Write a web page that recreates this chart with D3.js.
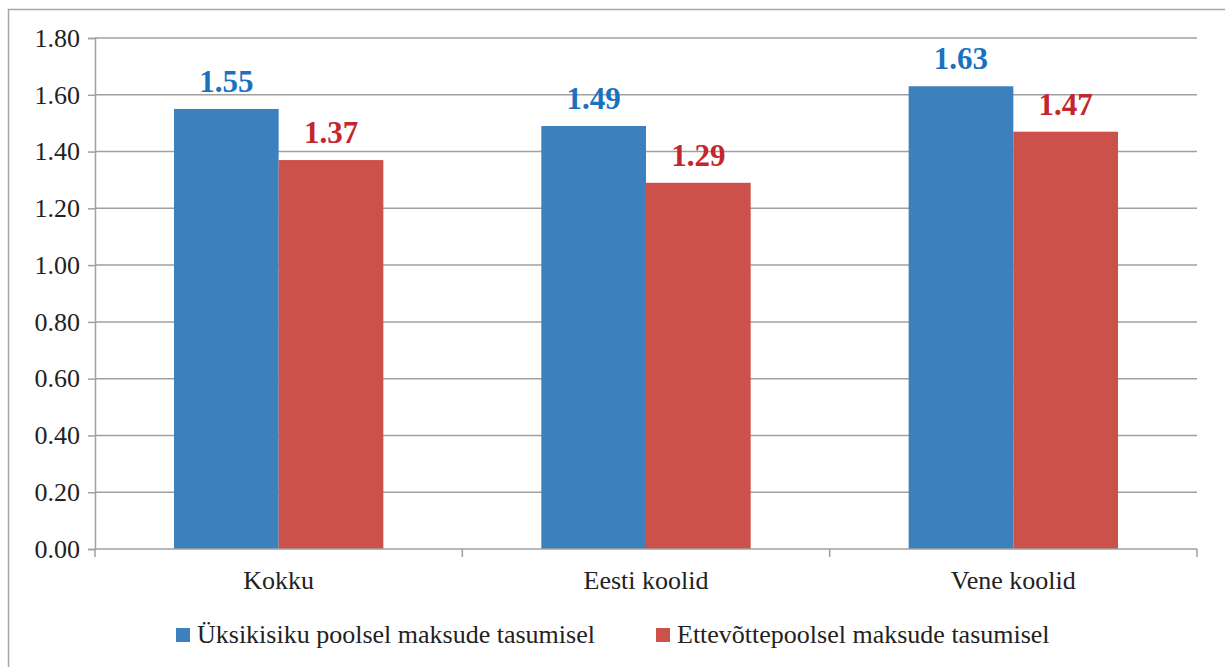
<!DOCTYPE html>
<html><head><meta charset="utf-8">
<script src="https://cdn.jsdelivr.net/npm/d3@7"></script>
<style>body{margin:0;background:#fff}svg{display:block}</style>
</head><body>
<svg id="c" width="1225" height="667"></svg>
<script>
const categories = ["Kokku", "Eesti koolid", "Vene koolid"];
const seriesNames = ["Üksikisiku poolsel maksude tasumisel", "Ettevõttepoolsel maksude tasumisel"];
const seriesA = [1.55, 1.49, 1.63];
const seriesB = [1.37, 1.29, 1.47];
const yTicks = [0, 0.2, 0.4, 0.6, 0.8, 1.0, 1.2, 1.4, 1.6, 1.8];
const barColors = ["#3c81be", "#cb514a"];
const labelColors = ["#1a72bf", "#c3262d"];

const FONT = '"Liberation Serif","Times New Roman",Tinos,serif';
const svg = d3.select("#c");
const L = 95, R = 1197, T = 38, B = 549;

svg.append("path").attr("d", `M8.5,667 V9.5 H1225`).attr("fill", "none").attr("stroke", "#a6a6a6").attr("stroke-width", 1.5);

const y = d3.scaleLinear().domain([0, 1.8]).range([B, T]);
const x0 = d3.scaleBand().domain(categories).range([L, R]).padding(0);
const bw = x0.bandwidth();
const x1 = d3.scaleBand().domain([0, 1]).range([bw * 0.215, bw * 0.785]).padding(0);

svg.append("g").selectAll("line").data(yTicks.filter(d => d > 0)).join("line")
  .attr("x1", L).attr("x2", R).attr("y1", d => y(d)).attr("y2", d => y(d))
  .attr("stroke", "#a0a0a0").attr("stroke-width", 1.5);

const yAxis = svg.append("g").attr("transform", `translate(${L},0)`)
  .call(d3.axisLeft(y).tickValues(yTicks).tickFormat(d3.format(".2f")).tickSize(7).tickPadding(8));
yAxis.select(".domain").attr("stroke", "#a0a0a0").attr("stroke-width", 1.5);
yAxis.selectAll(".tick line").attr("stroke", "#a0a0a0").attr("stroke-width", 1.5);
yAxis.selectAll(".tick text").style("font-family", FONT).style("font-size", "26px").attr("fill", "#222");

const data = categories.map((c, i) => ({ c, v: [seriesA[i], seriesB[i]] }));
const groups = svg.append("g").selectAll("g").data(data).join("g")
  .attr("transform", d => `translate(${x0(d.c)},0)`);
groups.selectAll("rect").data(d => d.v.map((v, k) => ({ v, k }))).join("rect")
  .attr("x", d => x1(d.k)).attr("width", x1.bandwidth())
  .attr("y", d => y(d.v)).attr("height", d => B - y(d.v))
  .attr("fill", d => barColors[d.k]);
groups.selectAll("text").data(d => d.v.map((v, k) => ({ v, k }))).join("text")
  .attr("x", d => x1(d.k) + x1.bandwidth() / 2).attr("y", d => y(d.v) - 17)
  .attr("text-anchor", "middle").style("font-family", FONT).style("font-weight", "bold")
  .style("font-size", "31px").attr("fill", d => labelColors[d.k]).text(d => d.v.toFixed(2));

const xAxis = svg.append("g").attr("transform", `translate(0,${B})`);
xAxis.append("line").attr("x1", L).attr("x2", R).attr("stroke", "#a0a0a0").attr("stroke-width", 1.5);
const bounds = [L].concat(categories.map(c => x0(c) + bw));
xAxis.selectAll("line.t").data(bounds).join("line").attr("class", "t")
  .attr("x1", d => d).attr("x2", d => d).attr("y1", 0).attr("y2", 8)
  .attr("stroke", "#a0a0a0").attr("stroke-width", 1.5);
xAxis.selectAll("text").data(categories).join("text")
  .attr("x", d => x0(d) + bw / 2).attr("y", 40).attr("text-anchor", "middle")
  .style("font-family", FONT).style("font-size", "26px").attr("fill", "#222").text(d => d);

const legX = [176, 656];
const leg = svg.append("g").selectAll("g").data(seriesNames).join("g")
  .attr("transform", (d, i) => `translate(${legX[i]},628)`);
leg.append("rect").attr("width", 14).attr("height", 14).attr("fill", (d, i) => barColors[i]);
leg.append("text").attr("x", 21).attr("y", 15).style("font-family", FONT).style("font-size", "26px")
  .attr("fill", "#222").text(d => d);
</script>
</body></html>
